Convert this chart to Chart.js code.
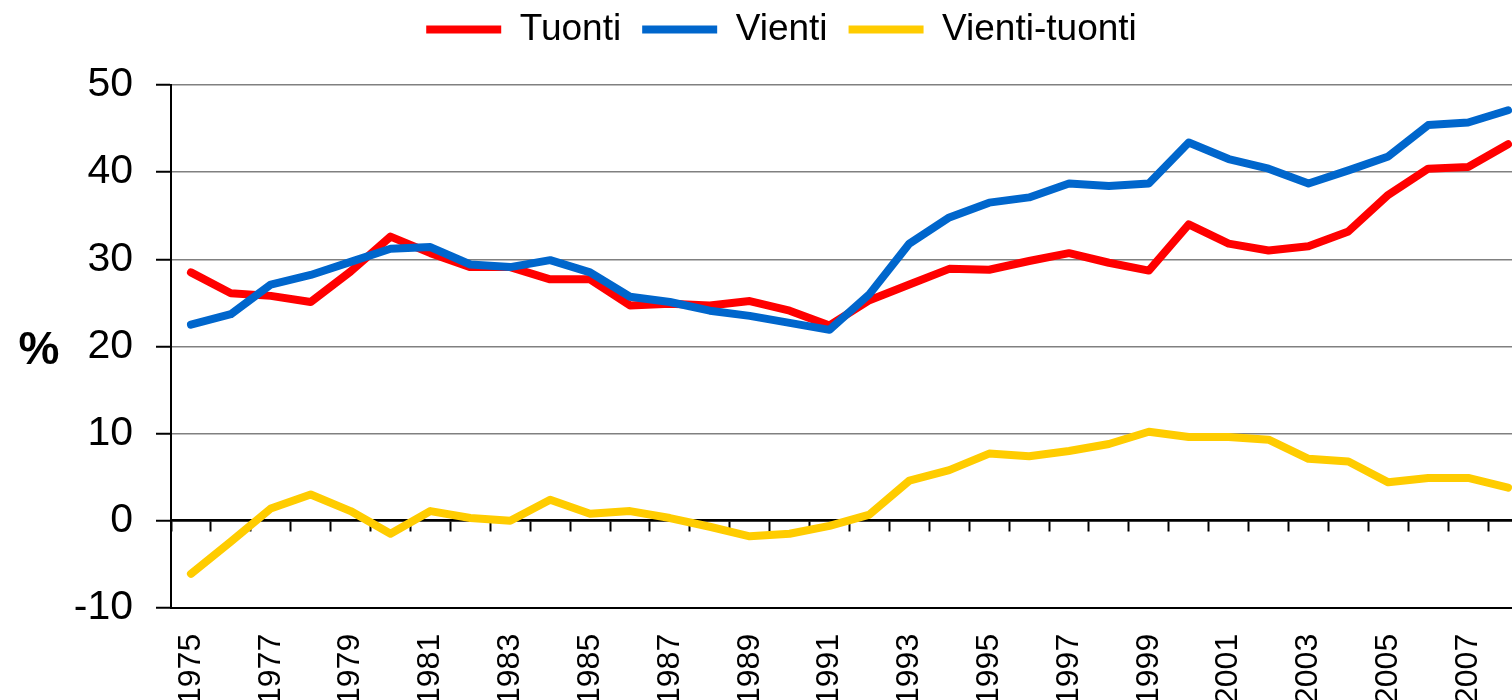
<!DOCTYPE html>
<html>
<head>
<meta charset="utf-8">
<script src="https://cdn.jsdelivr.net/npm/chart.js@4/dist/chart.umd.min.js"></script>
<style>
  html, body { margin: 0; padding: 0; background: #fff; overflow: hidden; }
  #wrap { width: 1584px; height: 731px; }
</style>
</head>
<body>
<div id="wrap"><canvas id="lineChart" width="1584" height="731"></canvas></div>
<script>
const years = [];
for (let y = 1975; y <= 2008; y++) years.push(String(y));

const tuonti = [28.5, 26.1, 25.8, 25.1, 28.6, 32.6, 30.7, 29.1, 29.1, 27.7, 27.7, 24.7, 24.9, 24.7, 25.2, 24.1, 22.4,
    25.3, 27.1, 28.9, 28.8, 29.8, 30.7, 29.6, 28.7, 34.0, 31.8, 31.0, 31.5, 33.2, 37.4, 40.4, 40.6, 43.2];
const vienti = [22.5, 23.7, 27.1, 28.2, 29.7, 31.2, 31.4, 29.4, 29.1, 29.9, 28.5, 25.7, 25.1, 24.1, 23.5, 22.7, 21.9,
    26.0, 31.8, 34.8, 36.5, 37.1, 38.7, 38.4, 38.7, 43.4, 41.5, 40.4, 38.7, 40.2, 41.8, 45.4, 45.7, 47.1];
const erotus = [-6.1, -2.4, 1.4, 3.0, 1.1, -1.5, 1.1, 0.3, 0.0, 2.4, 0.8, 1.1, 0.3, -0.7, -1.8, -1.5, -0.6,
    0.7, 4.6, 5.8, 7.7, 7.4, 8.0, 8.8, 10.2, 9.6, 9.6, 9.3, 7.1, 6.8, 4.4, 4.9, 4.9, 3.8];

const FONT = '"Liberation Sans", Arial, sans-serif';

// push the plot area down below the legend
const legendGap = {
    id: 'legendGap',
    beforeInit(chart) {
        if (!chart.legend) return;
        const fit = chart.legend.fit;
        chart.legend.fit = function () {
            fit.call(this);
            this.height += 27;
        };
    }
};

// "%" unit label left of the value axis
const yUnit = {
    id: 'yUnit',
    afterDraw(chart) {
        const { ctx, chartArea } = chart;
        ctx.save();
        ctx.font = 'bold 46px ' + FONT;
        ctx.fillStyle = '#000';
        ctx.textAlign = 'center';
        ctx.textBaseline = 'middle';
        ctx.fillText('%', 39, (chartArea.top + chartArea.bottom) / 2 + 5);
        ctx.restore();
    }
};

function line(label, data, color, order) {
    return {
        label: label,
        data: data,
        borderColor: color,
        backgroundColor: color,
        borderWidth: 8,
        borderCapStyle: 'round',
        borderJoinStyle: 'round',
        pointRadius: 0,
        pointHoverRadius: 0,
        tension: 0,
        fill: false,
        order: order
    };
}

new Chart(document.getElementById('lineChart').getContext('2d'), {
    type: 'line',
    data: {
        labels: years,
        datasets: [
            line('Tuonti', tuonti, '#FF0000', 1),
            line('Vienti', vienti, '#0066CC', 0),
            line('Vienti-tuonti', erotus, '#FFCC00', 2)
        ]
    },
    options: {
        responsive: false,
        animation: false,
        layout: { padding: { top: -10, left: 35, right: 56, bottom: 0 } },
        plugins: {
            legend: {
                position: 'top',
                labels: {
                    usePointStyle: true,
                    pointStyle: 'line',
                    pointStyleWidth: 75,
                    padding: 21,
                    color: '#000',
                    font: { family: FONT, size: 37 },
                    sort: (a, b) => a.datasetIndex - b.datasetIndex
                }
            },
            tooltip: { enabled: false }
        },
        scales: {
            x: {
                type: 'category',
                offset: true,
                grid: { display: false, drawTicks: false },
                border: { display: true, color: '#000', width: 2 },
                ticks: {
                    autoSkip: false,
                    maxRotation: 90,
                    minRotation: 90,
                    padding: 26,
                    color: '#000',
                    font: { family: FONT, size: 32 },
                    callback: function (value, index) {
                        return index % 2 === 0 ? this.getLabelForValue(value) : '';
                    }
                }
            },
            x2: {
                type: 'category',
                position: { y: 0 },
                offset: true,
                grid: {
                    offset: true,
                    drawOnChartArea: false,
                    drawTicks: true,
                    tickLength: 10,
                    tickColor: '#000',
                    tickWidth: 2
                },
                border: { display: true, color: '#000', width: 2.5 },
                ticks: { display: false }
            },
            y: {
                min: -10,
                max: 50,
                afterFit: (scale) => { scale.width = 136; },
                grid: {
                    color: (ctx) => (ctx.tick && (ctx.tick.value === 0 || ctx.tick.value === -10)) ? '#000' : '#808080',
                    lineWidth: 1.5,
                    tickLength: 15,
                    tickColor: '#000',
                    tickWidth: 2
                },
                border: { display: true, color: '#000', width: 2 },
                ticks: {
                    stepSize: 10,
                    padding: 23,
                    color: '#000',
                    font: { family: FONT, size: 41 }
                }
            }
        }
    },
    plugins: [legendGap, yUnit]
});
</script>
</body>
</html>
